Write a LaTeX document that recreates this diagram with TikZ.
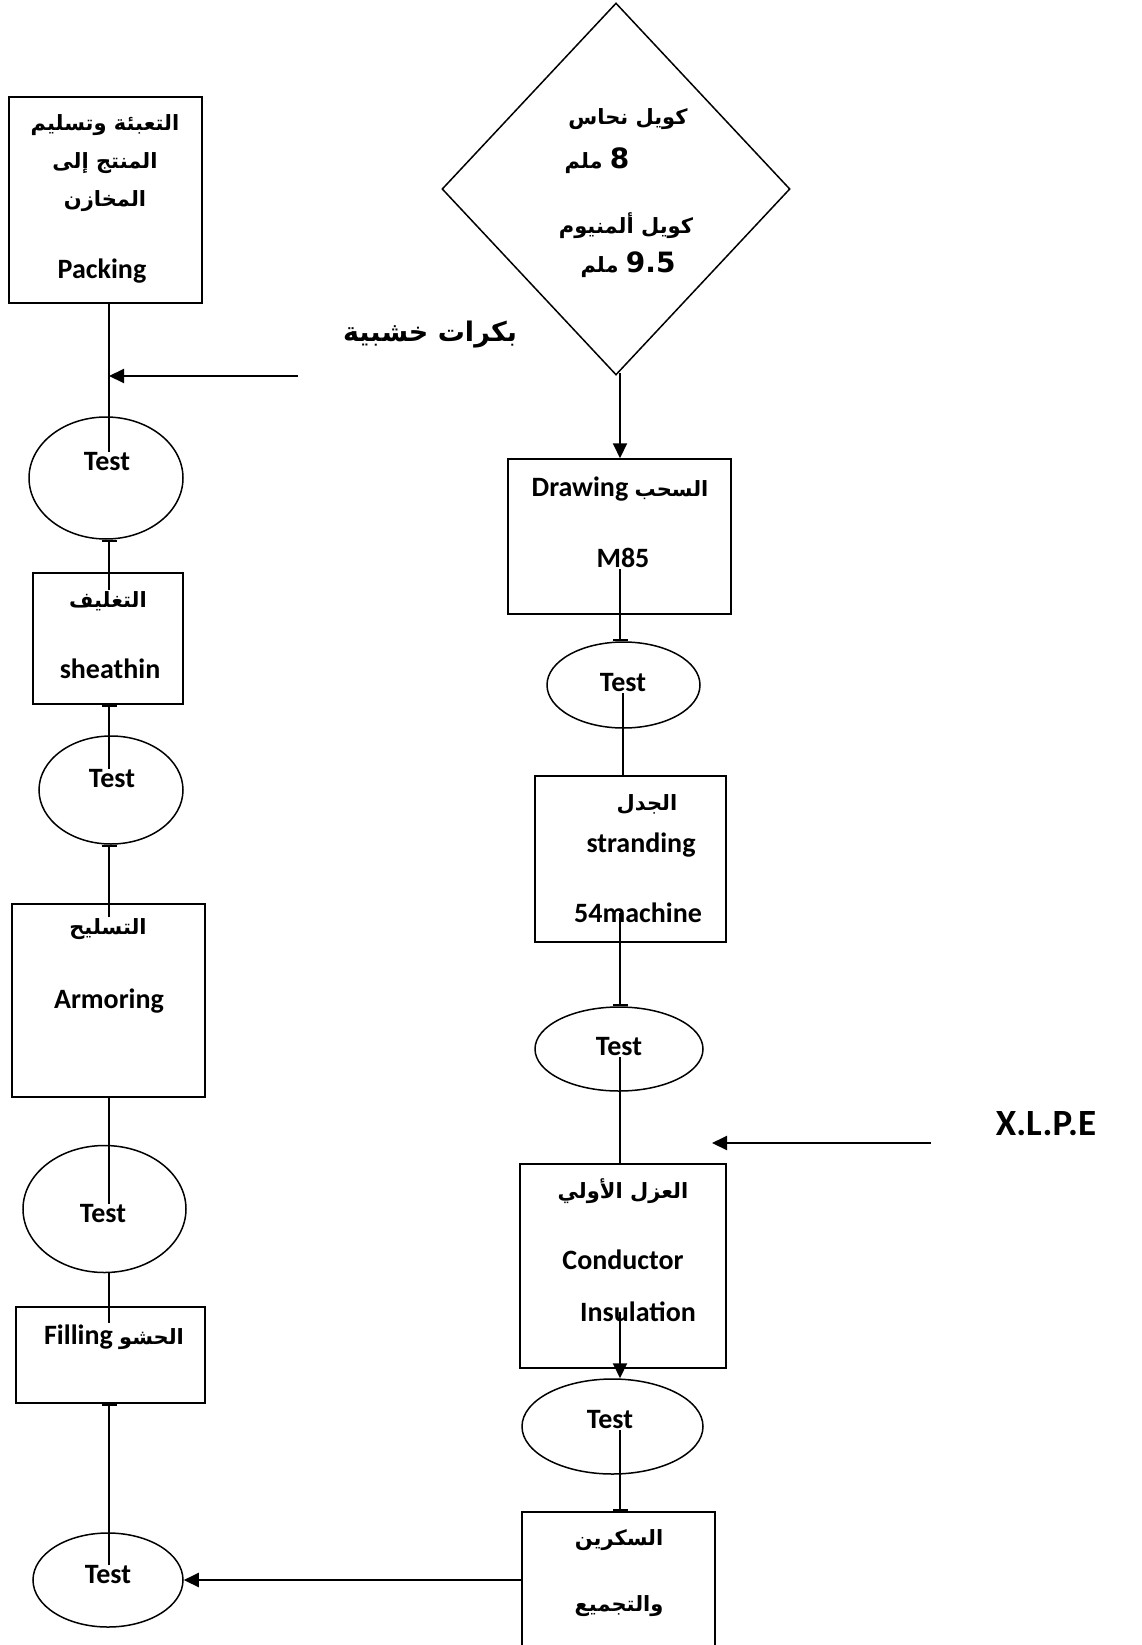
\documentclass[tikz,border=0pt]{standalone}
\usepackage{fontspec}
\setmainfont{Carlito}
\newfontfamily\arabicfont[Script=Arabic]{DejaVu Sans}
\TeXXeTstate=1
\usetikzlibrary{shapes.geometric,arrows.meta}
\newcommand{\artxt}[1]{{\arabicfont\bfseries\fontsize{21}{25}\selectfont #1}}
\tikzset{
  shp/.style={draw, line width=1.5pt, inner sep=0pt},
  procbox/.style={shp, rectangle},
  testell/.style={shp, ellipse},
  lat/.style={font=\bfseries\fontsize{28}{32}\selectfont, inner sep=1pt},
  arb/.style={font=\arabicfont\bfseries\fontsize{21}{25}\selectfont, inner sep=1pt},
  conn/.style={line width=2pt},
  arr/.style={conn, -{Triangle[length=15pt,width=14pt]}},
  tickstart/.style={conn, {Bar[width=15pt]}-},
  tickend/.style={conn, -{Bar[width=15pt]}},
}
\begin{document}
\begin{tikzpicture}[x=1pt,y=-1pt]
\useasboundingbox (0,0) rectangle (1141,1645);
\fill[white] (0,0) rectangle (1141,1645);
\clip (0,0) rectangle (1141,1645);
\coordinate (lc) at (109,0);
\coordinate (rc) at (620,0);

% ---------- left column ----------
\node[procbox, minimum width=193pt, minimum height=206pt] (pack) at (105.5,200) {};
\node[arb] (pa1) at (105,125) {\beginR التعبئة وتسليم\endR};
\node[arb] (pa2) at (105,163) {\beginR المنتج إلى\endR};
\node[arb] (pa3) at (105,201) {المخازن};
\node[lat] (pa4) at (102,271) {Packing};

\node[testell, minimum width=154pt, minimum height=122pt] (t1) at (106,478) {};
\node[lat] (t1l) at (107,462) {Test};

\node[procbox, minimum width=150pt, minimum height=131pt] (sh) at (108,638.5) {};
\node[arb] (sh1) at (108,601) {التغليف};
\node[lat] (sh2) at (110,669) {sheathin};

\node[testell, minimum width=144pt, minimum height=108pt] (t2) at (111,790) {};
\node[lat] (t2l) at (112,779) {Test};

\node[procbox, minimum width=193pt, minimum height=193pt] (arm) at (108.5,1000.5) {};
\node[arb] (ar1) at (108,929) {التسليح};
\node[lat] (ar2) at (109,1001) {Armoring};

\node[testell, minimum width=163pt, minimum height=127pt] (t3) at (104.5,1209) {};
\node[lat] (t3l) at (103,1214) {Test};

\node[procbox, minimum width=189pt, minimum height=96pt] (fill) at (110.5,1355) {};
\node[lat] (fi1) at (114,1337) {Filling \artxt{الحشو}};

\node[testell, minimum width=150pt, minimum height=94pt] (t4) at (108,1580) {};
\node[lat] (t4l) at (108,1575) {Test};

\node[arb, font=\arabicfont\bfseries\fontsize{27}{31}\selectfont] (bkr) at (430,335) {\beginR بكرات خشبية\endR};
\coordinate (bkrs) at (298,376);

% ---------- right column ----------
\node[shp, diamond, minimum width=348pt, minimum height=372pt] (dia) at (616,189) {};
\node[arb] (d1) at (628,119) {\beginR كويل نحاس\endR};
\node[arb] (d2) at (597,161) {\artxt{ملم} {\bfseries\fontsize{28}{32}\selectfont 8}};
\node[arb] (d3) at (626,226) {\beginR كويل ألمنيوم\endR};
\node[arb] (d4) at (628,265) {\artxt{ملم} {\bfseries\fontsize{28}{32}\selectfont 9.5}};

\node[procbox, minimum width=223pt, minimum height=155pt] (drw) at (619.5,536.5) {};
\node[lat] (dr1) at (620,489) {Drawing \artxt{السحب}};
\node[lat] (dr2) at (623,558) {M85};

\node[testell, minimum width=153pt, minimum height=86pt] (t5) at (623.5,685) {};
\node[lat] (t5l) at (623,683) {Test};

\node[procbox, minimum width=191pt, minimum height=166pt] (str) at (630.5,859) {};
\node[arb] (s1) at (647,804) {الجدل};
\node[lat] (s2) at (641,845) {stranding};
\node[lat] (s3) at (638,913) {54machine};

\node[testell, minimum width=168pt, minimum height=84pt] (t6) at (619,1049) {};
\node[lat] (t6l) at (619,1047) {Test};

\node[lat, font=\bfseries\fontsize{37}{40}\selectfont] (xlpe) at (1046,1124) {X.L.P.E};
\coordinate (xs) at (931,1143);
\coordinate (xe) at (712,1143);

\node[procbox, minimum width=206pt, minimum height=204pt] (ins) at (623,1266) {};
\node[arb] (i1) at (623,1191) {\beginR العزل الأولي\endR};
\node[lat] (i2) at (623,1260) {Conductor};
\node[lat] (i3) at (638,1312) {Insulation};

\node[testell, minimum width=181pt, minimum height=95pt] (t7) at (612.5,1426.5) {};
\node[lat] (t7l) at (610,1420) {Test};

\node[procbox, minimum width=193pt, minimum height=160pt] (scr) at (618.5,1592) {};
\node[arb] (sc1) at (619,1540) {السكرين};
\node[arb] (sc2) at (619,1606) {والتجميع};

% ---------- connectors ----------
\draw[conn] (lc |- pack.south) -- (lc |- t1l.north);
\draw[arr] (bkrs) -- (lc |- bkrs);
\draw[tickstart] (lc |- t1.south) -- (lc |- sh1.north);
\draw[tickstart] (lc |- sh.south) -- (lc |- t2l.north);
\draw[tickstart] (lc |- t2.south) -- (lc |- ar1.north);
\draw[conn] (lc |- arm.south) -- (lc |- t3l.north);
\draw[conn] (lc |- t3.south) -- (lc |- fi1.north);
\draw[tickstart] (lc |- fill.south) -- (lc |- t4l.north);
\draw[arr] (scr.west |- t4.east) -- (t4.east);

\draw[arr] ([yshift=3pt]rc |- dia.south) -- (rc |- drw.north);
\draw[tickend] (rc |- dr2.south) -- (rc |- t5.north);
\draw[conn] (t5l.south) -- (t5l.south |- str.north);
\draw[tickend] (rc |- s3.center) -- (rc |- t6.north);
\draw[conn] (rc |- t6l.south) -- (rc |- ins.north);
\draw[arr] (xs) -- (xe);
\draw[arr] (rc |- i3.center) -- (rc |- t7.north);
\draw[tickend] (rc |- t7l.south) -- (rc |- scr.north);
\end{tikzpicture}
\end{document}
